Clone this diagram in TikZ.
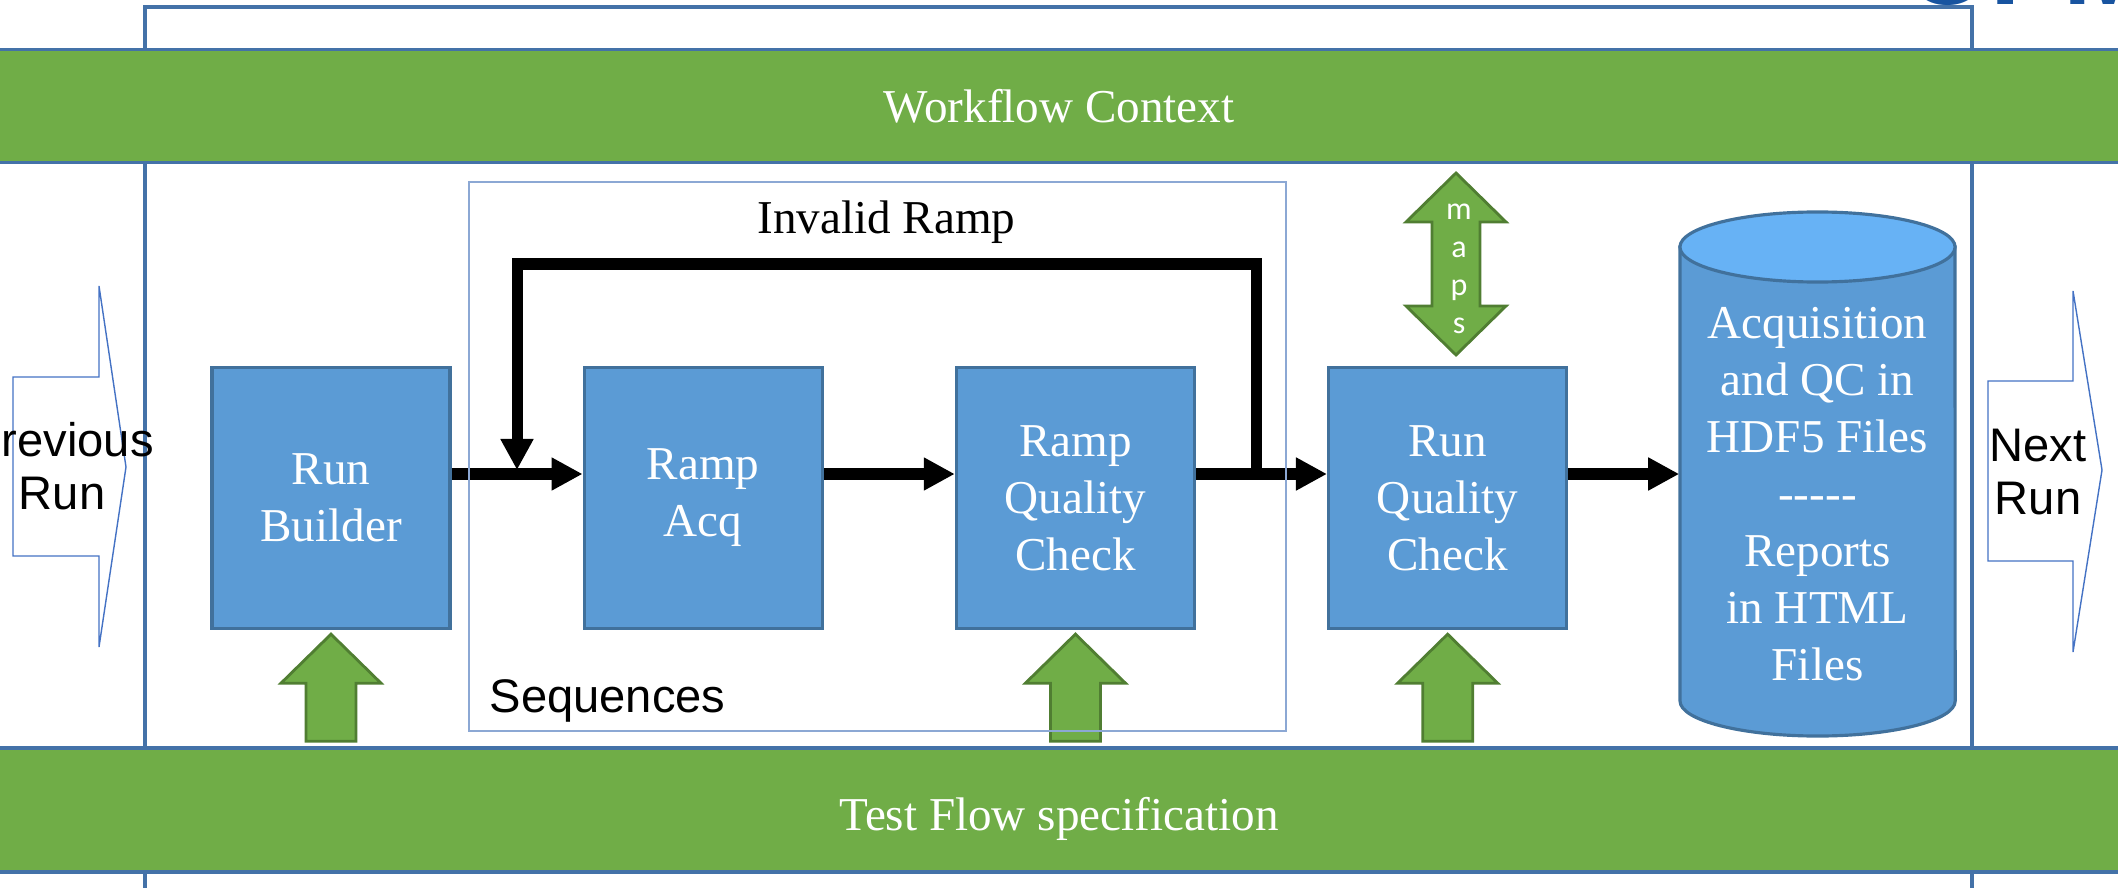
\documentclass[tikz,border=0pt]{standalone}
\usepackage{fontspec}
\setmainfont{Liberation Serif}
\setsansfont{Liberation Sans}
\newfontfamily\mapsfont{Carlito}
\usetikzlibrary{positioning,arrows.meta}
\definecolor{boxblue}{RGB}{91,155,213}
\definecolor{boxline}{RGB}{65,113,156}
\definecolor{capblue}{RGB}{103,178,245}
\definecolor{leafgreen}{RGB}{112,173,71}
\definecolor{leafline}{RGB}{80,126,50}
\definecolor{framecolor}{RGB}{68,114,168}
\definecolor{seqcolor}{RGB}{140,168,212}
\definecolor{runline}{RGB}{68,114,196}
\definecolor{logoblue}{RGB}{24,84,160}

\newcommand\serifbig{\fontsize{13.4pt}{16.2pt}\selectfont}
\newcommand\sansbig{\sffamily\fontsize{13.4pt}{15.1pt}\selectfont}
\newcommand\mapstext{\mapsfont\fontsize{9.1pt}{10.8pt}\selectfont}

\begin{document}
\begin{tikzpicture}[%
    x=0.01cm, y=-0.01cm,        % one unit is one pixel of the sketch
    node distance=3.72cm,       % spacing of the stage boxes
    >={Triangle[length=3.1mm,width=3.1mm]},
    ]
\tikzset{
  stage/.style={draw=boxline, line width=0.9pt, fill=boxblue, text=white, on grid,
    minimum width=2.38cm, minimum height=2.61cm, inner sep=0pt, align=center, font=\serifbig},
  band/.style={draw=framecolor, line width=0.9pt, fill=leafgreen, text=white,
    minimum width=21.4cm, minimum height=1.13cm, inner sep=0pt, font=\serifbig},
  flow/.style={line width=1.1mm, ->},
  feed/.style={draw=leafline, line width=0.8pt, fill=leafgreen},
  runarrow/.style={draw=runline, line width=0.4pt, fill=white},
  runtext/.style={align=center, inner sep=0pt, font=\sansbig},
}

\useasboundingbox (0,0) rectangle (2118,888);
\clip (0,0) rectangle (2118,888);

% frame and logo
\draw[framecolor, line width=0.9pt] (145,900) -- (145,7) -- (1972,7) -- (1972,900);
\node[anchor=base west, inner sep=0pt, text=logoblue,
  font=\sffamily\bfseries\fontsize{31pt}{31pt}\selectfont] (logo) at (1905,5) {OPM};

% bands
\node[band] (context) at (1059,106) {Workflow Context};
\node[band, minimum height=1.24cm] (spec) at (1059,810) {};
\node[text=white, font=\serifbig, inner sep=0pt] (spectext) at (1059,819) {Test Flow specification};

% previous / next run
\draw[runarrow] (13,377) -- (99,377) -- (99,286) -- (126,467) -- (99,647) -- (99,556) -- (13,556) -- cycle;
\node[runtext] (prev) at (62,466) {Previous\\Run};
\draw[runarrow] (1988,381) -- (2073,381) -- (2073,291) -- (2102,470) -- (2073,652) -- (2073,561) -- (1988,561) -- cycle;
\node[runtext] (next) at (2038,472) {Next\\Run};

% stages
\node[stage] (builder) at (331,498) {Run\\Builder};
\node[stage, right=of builder] (acq) {Ramp\\Acq};
\node[stage, right=of acq] (rqc) {Ramp\\Quality\\Check};
\node[stage, right=of rqc] (runqc) {Run\\Quality\\Check};

% store
\filldraw[draw=boxline, line width=0.9pt, fill=boxblue] (1680,247) -- (1680,701)
  arc[start angle=180, end angle=360, x radius=1.375cm, y radius=0.35cm] -- (1955,247) -- cycle;
\filldraw[draw=boxline, line width=0.9pt, fill=capblue] (1817.5,247) ellipse [x radius=1.375cm, y radius=0.35cm];
\node[text=white, font=\serifbig, align=center, minimum width=2.75cm, inner sep=0pt] (store) at (1817.5,494.5)
  {Acquisition\\and QC in\\HDF5 Files\\-\kern0pt-\kern0pt-\kern0pt-\kern0pt-\\Reports\\in HTML\\Files};

% maps
\draw[feed] (1456,173) -- (1506,222) -- (1480,222) -- (1480,306) -- (1506,306) -- (1456,355)
  -- (1406,306) -- (1432,306) -- (1432,222) -- (1406,222) -- cycle;
\node[text=white, font=\mapstext, align=center, inner sep=0pt] (maps) at (1459,269) {m\\a\\p\\s};

% feeds
\foreach \s in {builder, rqc, runqc}
  \draw[feed] ([yshift=-0.4mm]\s.south) -- ++(50,49) -- ++(-25,0) -- ++(0,58) -- ++(-50,0)
    -- ++(0,-58) -- ++(-25,0) -- cycle;

% connect
\coordinate (lane) at (0,474);
\coordinate (loopline) at (0,264);
\coordinate (fork) at (1256,474);
\coordinate (join) at (517,470);
\draw[flow] (builder.east |- lane) -- (acq.west |- lane);
\draw[flow] (acq.east |- lane) -- (rqc.west |- lane);
\draw[flow] (rqc.east |- lane) -- (runqc.west |- lane);
\draw[flow] (runqc.east |- lane) -- (store.west |- lane);
\draw[flow] (fork) -- (fork |- loopline)
  -- node[above=1.5mm, inner sep=0pt, font=\serifbig] (invalid) {Invalid Ramp} (join |- loopline) -- (join);

% sequences
\draw[seqcolor, line width=0.6pt] (469,182) rectangle (1286,731);
\node[anchor=base west, inner sep=0pt, font=\sansbig] (seqlabel) at (489,712) {Sequences};

\end{tikzpicture}
\end{document}
